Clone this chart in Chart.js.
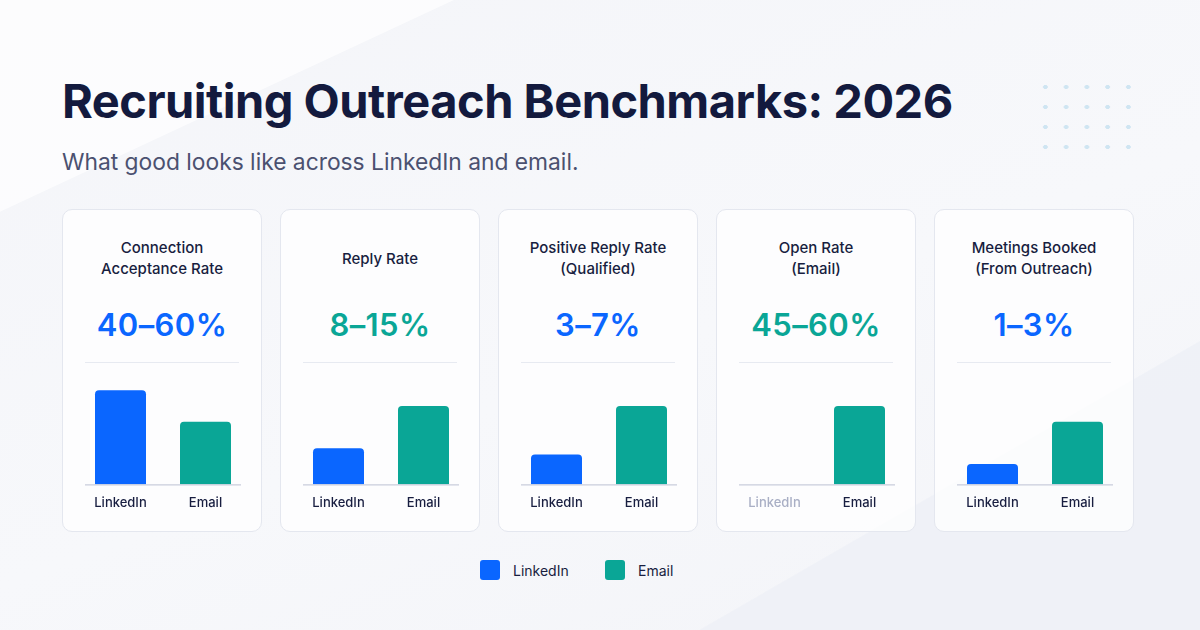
<!DOCTYPE html>
<html>
<head>
<meta charset="utf-8">
<script src="https://cdn.jsdelivr.net/npm/chart.js@4.4.1/dist/chart.umd.min.js"></script>
<style>
  html, body { margin: 0; padding: 0; }
  body {
    width: 1200px; height: 630px; position: relative; overflow: hidden;
    font-family: Inter, 'Noto Sans', sans-serif;
    background: linear-gradient(160deg, #f4f5f9 0%, #f7f8fb 55%, #f3f4f8 100%);
  }
  .glow1 { position: absolute; left: -200px; top: -300px; width: 700px; height: 420px;
    background: rgba(255,255,255,0.7); transform: rotate(-25deg); }
  .glow2 { position: absolute; right: -150px; bottom: -250px; width: 600px; height: 420px;
    background: rgba(238,240,246,0.8); transform: rotate(-30deg); }
  .dots { position: absolute; left: 1035px; top: 77px; width: 104px; height: 80px;
    background-image: radial-gradient(circle, #cfe5f2 2px, transparent 2.5px);
    background-size: 20.75px 20px; }
  h1 { position: absolute; left: 62px; top: 72px; margin: 0; font-size: 47px; font-weight: 700;
    color: #131a3e; letter-spacing: -0.5px; white-space: nowrap; }
  .sub { position: absolute; left: 62px; top: 148px; margin: 0; font-size: 22.8px; font-weight: 400;
    color: #4b5170; white-space: nowrap; }
  .card { position: absolute; top: 209px; width: 200px; height: 323px; box-sizing: border-box;
    background: rgba(255,255,255,0.75); border: 1px solid #e4e7ef; border-radius: 10px; }
  .ctitle { position: absolute; left: 0; right: 0; top: 27px; height: 42px; display: flex;
    flex-direction: column; justify-content: center; text-align: center;
    font-size: 15px; font-weight: 500; color: #181e40; line-height: 21px; }
  .range { position: absolute; left: 0; right: 0; top: 96px; text-align: center;
    font-size: 31px; font-weight: 600; letter-spacing: 0.4px; }
  .sep { position: absolute; left: 22px; right: 22px; top: 152px; height: 1px; background: #e7eaf1; }
  .card canvas { position: absolute; left: 15px; top: 152px; }
  .legend { position: absolute; top: 560px; display: flex; align-items: center;
    font-size: 14px; color: #181e40; }
  .legend span.sw { width: 20px; height: 20px; border-radius: 3px; margin-right: 13px; }
</style>
</head>
<body>
<div class="glow1"></div>
<div class="glow2"></div>
<div class="dots"></div>
<h1>Recruiting Outreach Benchmarks: 2026</h1>
<p class="sub">What good looks like across LinkedIn and email.</p>
<div id="cards"></div>
<div class="legend" style="left:480px"><span class="sw" style="background:#0a66ff"></span>LinkedIn</div>
<div class="legend" style="left:605px"><span class="sw" style="background:#0aa696"></span>Email</div>

<script>
// channels shown in every card
const categories = ['LinkedIn', 'Email'];

// card headings and benchmark ranges
const metricTitles = [
    ['Connection', 'Acceptance Rate'],
    ['Reply Rate'],
    ['Positive Reply Rate', '(Qualified)'],
    ['Open Rate', '(Email)'],
    ['Meetings Booked', '(From Outreach)']
];
const benchmarkRanges = ['40–60%', '8–15%', '3–7%', '45–60%', '1–3%'];
const rangeChannel = ['LinkedIn', 'Email', 'LinkedIn', 'Email', 'LinkedIn'];

// relative bar heights (index); null = not applicable
const linkedinValues = [60, 23, 19, null, 13];
const emailValues = [40, 50, 50, 50, 40];

const azul = '#0a66ff';
const verde = '#0aa696';

// linha de base das barras (só dentro da área útil)
const linhaBase = {
    id: 'linhaBase',
    afterDatasetsDraw(chart) {
        const { ctx, chartArea } = chart;
        ctx.save();
        ctx.strokeStyle = '#c9cddb';
        ctx.lineWidth = 1.2;
        ctx.beginPath();
        ctx.moveTo(chartArea.left + 7, chartArea.bottom + 0.5);
        ctx.lineTo(chartArea.right - 7, chartArea.bottom + 0.5);
        ctx.stroke();
        ctx.restore();
    }
};

const container = document.getElementById('cards');

metricTitles.forEach((titulo, i) => {
    const card = document.createElement('div');
    card.className = 'card';
    card.style.left = (62 + i * 218) + 'px';

    const t = document.createElement('div');
    t.className = 'ctitle';
    t.innerHTML = titulo.map(l => '<div>' + l + '</div>').join('');
    card.appendChild(t);

    const r = document.createElement('div');
    r.className = 'range';
    r.textContent = benchmarkRanges[i];
    r.style.color = rangeChannel[i] === 'LinkedIn' ? azul : verde;
    card.appendChild(r);

    const s = document.createElement('div');
    s.className = 'sep';
    card.appendChild(s);

    const canvas = document.createElement('canvas');
    canvas.width = 170;
    canvas.height = 160;
    canvas.style.width = '170px';
    canvas.style.height = '160px';
    card.appendChild(canvas);
    container.appendChild(card);

    const semLinkedin = linkedinValues[i] === null;

    new Chart(canvas, {
        type: 'bar',
        data: {
            labels: categories,
            datasets: [{
                data: [linkedinValues[i], emailValues[i]],
                backgroundColor: [azul, verde],
                borderRadius: 4,
                borderSkipped: 'start',
                categoryPercentage: 1,
                barPercentage: 0.6
            }]
        },
        options: {
            responsive: false,
            animation: false,
            events: [],
            layout: { padding: 0 },
            plugins: { legend: { display: false }, tooltip: { enabled: false } },
            scales: {
                x: {
                    grid: { display: false, drawTicks: false },
                    border: { display: false },
                    ticks: {
                        padding: 11,
                        font: { family: 'Inter', size: 13, weight: 500 },
                        color: ctx => (semLinkedin && ctx.index === 0) ? '#a9afc5' : '#181e40'
                    }
                },
                y: {
                    display: false,
                    min: 0,
                    max: 78
                }
            }
        },
        plugins: [linhaBase]
    });
});
</script>
</body>
</html>
